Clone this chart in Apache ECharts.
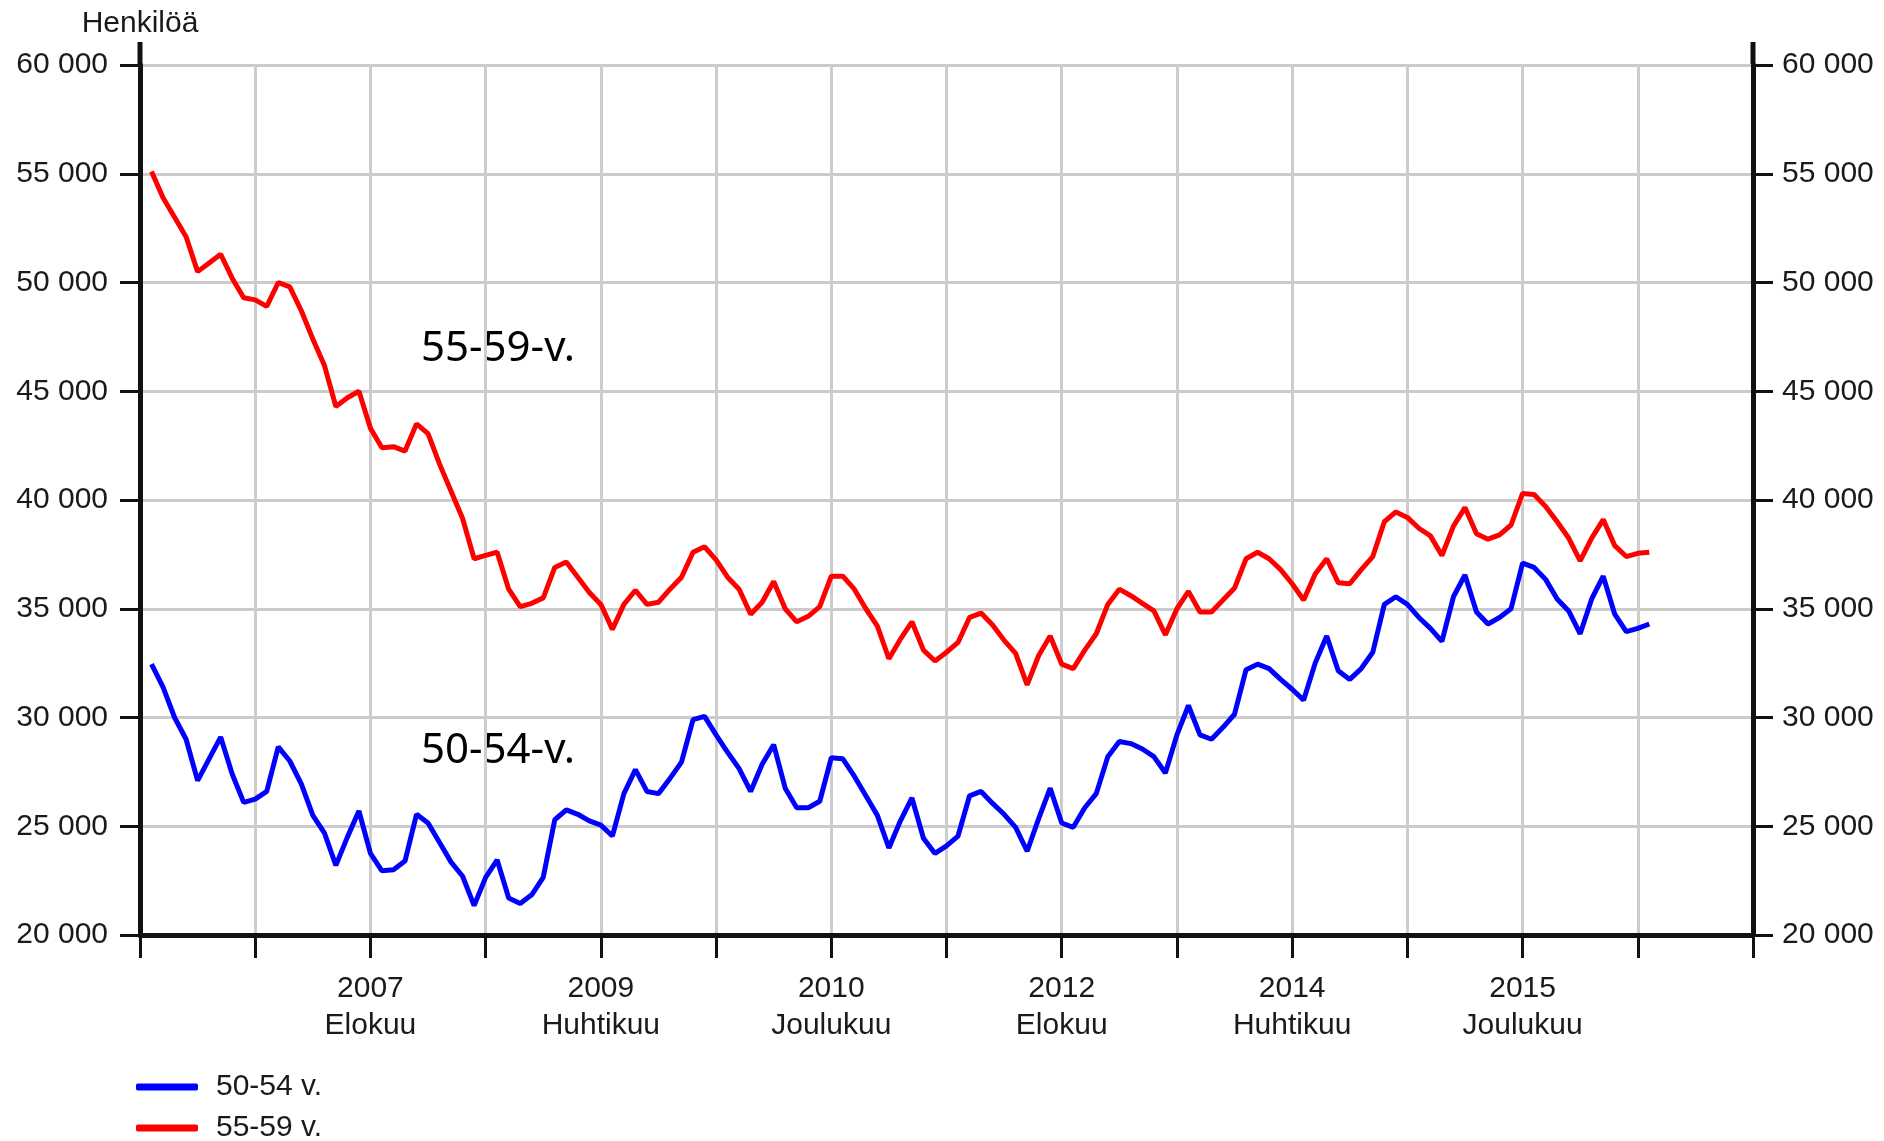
<!DOCTYPE html>
<html>
<head>
<meta charset="utf-8">
<title>50-54 v. ja 55-59 v.</title>
<script src="https://cdn.jsdelivr.net/npm/echarts@6/dist/echarts.min.js"></script>
<style>
  html, body { margin: 0; padding: 0; background: #fff; }
  #chart { width: 1884px; height: 1141px; }
</style>
</head>
<body>
<div id="chart"></div>
<script>
// kuukausiakseli: joulukuu 2005 ... elokuu 2017 (141 kuukautta)
const monthNames = ['Tammikuu', 'Helmikuu', 'Maaliskuu', 'Huhtikuu', 'Toukokuu', 'Kesäkuu',
  'Heinäkuu', 'Elokuu', 'Syyskuu', 'Lokakuu', 'Marraskuu', 'Joulukuu'];
const axisStart = { year: 2005, month: 12 };
const axisMonths = 141;
const labelEvery = 20;   // nimetyt tikit: 2007 Elokuu, 2009 Huhtikuu, ...
const gridEvery = 10;

// havainnot tammikuu 2006 ... marraskuu 2016
const dataStartIndex = 1;
const age55_59 = [
  55100, 53900, 53000, 52100, 50500, 50900, 51300, 50200, 49300, 49200, 48900, 50000,
  49800, 48700, 47400, 46200, 44300, 44700, 45000, 43300, 42400, 42450, 42250, 43500,
  43050, 41650, 40400, 39150, 37300, 37450, 37600, 35900, 35100, 35250, 35500, 36900,
  37150, 36450, 35750, 35200, 34050, 35200, 35850, 35200, 35300, 35900, 36450, 37600,
  37850, 37250, 36450, 35900, 34750, 35300, 36250, 35000, 34400, 34650, 35100, 36500,
  36500, 35900, 35000, 34200, 32700, 33600, 34400, 33100, 32600, 33000, 33450, 34600,
  34800, 34250, 33550, 32950, 31500, 32850, 33750, 32450, 32250, 33100, 33850, 35200,
  35900, 35600, 35250, 34900, 33800, 35000, 35800, 34850, 34850, 35400, 35950, 37300,
  37600, 37300, 36800, 36150, 35400, 36600, 37300, 36200, 36150, 36800, 37400, 39000,
  39450, 39200, 38700, 38350, 37450, 38800, 39650, 38450, 38200, 38400, 38850, 40300,
  40250, 39700, 39000, 38250, 37200, 38250, 39100, 37900, 37400, 37550, 37600
];
const age50_54 = [
  32450, 31400, 30000, 29000, 27100, 28100, 29100, 27400, 26100, 26250, 26600, 28650,
  28000, 26950, 25500, 24700, 23200, 24500, 25700, 23750, 22950, 23000, 23400, 25550,
  25150, 24250, 23350, 22700, 21350, 22650, 23450, 21700, 21450, 21850, 22650, 25300,
  25750, 25550, 25250, 25050, 24550, 26500, 27600, 26600, 26500, 27200, 27950, 29900,
  30050, 29200, 28400, 27650, 26600, 27850, 28750, 26750, 25850, 25850, 26150, 28150,
  28100, 27300, 26400, 25500, 24000, 25250, 26300, 24450, 23750, 24100, 24550, 26400,
  26600, 26050, 25550, 24950, 23850, 25350, 26750, 25150, 24950, 25850, 26500, 28200,
  28900, 28800, 28550, 28200, 27450, 29200, 30550, 29200, 29000, 29550, 30150, 32200,
  32450, 32250, 31750, 31300, 30800, 32500, 33750, 32150, 31750, 32250, 33000, 35200,
  35550, 35200, 34600, 34100, 33500, 35550, 36550, 34850, 34300, 34600, 35000, 37100,
  36900, 36350, 35450, 34900, 33850, 35450, 36500, 34750, 33950, 34100, 34300
];
const yMin = 20000, yMax = 60000, yStep = 5000;

const months = [];
for (let k = 0; k < axisMonths; k++) {
  const t = axisStart.year * 12 + (axisStart.month - 1) + k;
  months.push(Math.floor(t / 12) + '-' + String(t % 12 + 1).padStart(2, '0'));
}
function padSeries(values) {
  const out = new Array(axisMonths).fill(null);
  values.forEach((v, k) => { out[dataStartIndex + k] = v; });
  return out;
}
const fmtThousands = v => String(v).replace(/\B(?=(\d{3})+(?!\d))/g, ' ');

const FONT = '"Liberation Sans", Arial, sans-serif';
const INK = '#1a1a1a';

const chart = echarts.init(document.getElementById('chart'));
const grid = { left: 140, right: 131, top: 65, bottom: 206 };

const yAxisBase = {
  type: 'value',
  min: yMin,
  max: yMax,
  interval: yStep,
  axisLine: { show: true, lineStyle: { color: '#111', width: 5 } },
  axisTick: { show: true, length: 20, lineStyle: { color: '#111', width: 3 } },
  axisLabel: { color: INK, fontFamily: FONT, fontSize: 30, formatter: fmtThousands }
};

chart.setOption({
  backgroundColor: '#fff',
  animation: false,
  grid: grid,
  legend: {
    orient: 'vertical',
    left: 136,
    top: 1072,
    height: 200,
    padding: 0,
    itemGap: 11,
    icon: 'roundRect',
    itemWidth: 62,
    itemHeight: 7,
    textStyle: { color: INK, fontFamily: FONT, fontSize: 30, lineHeight: 30, padding: [0, 0, 0, 13] },
    data: ['50-54 v.', '55-59 v.']
  },
  xAxis: {
    type: 'category',
    data: months,
    boundaryGap: false,
    axisLine: { lineStyle: { color: '#111', width: 5 } },
    axisTick: {
      length: 23,
      interval: i => i % gridEvery === 0,
      lineStyle: { color: '#111', width: 3 }
    },
    splitLine: {
      show: true,
      interval: i => i % gridEvery === 0,
      lineStyle: { color: '#cdcdcd', width: 3 }
    },
    axisLabel: {
      interval: i => i > 0 && i < axisMonths - 1 && i % labelEvery === 0,
      margin: 35,
      lineHeight: 37,
      color: INK,
      fontFamily: FONT,
      fontSize: 30,
      formatter: v => {
        const [y, m] = v.split('-');
        return y + '\n' + monthNames[+m - 1];
      }
    }
  },
  yAxis: [
    Object.assign({}, yAxisBase, {
      position: 'left',
      name: 'Henkilöä',
      nameLocation: 'end',
      nameGap: 26,
      nameTextStyle: { color: INK, fontFamily: FONT, fontSize: 30, align: 'center' },
      axisLabel: Object.assign({}, yAxisBase.axisLabel, { margin: 32 }),
      splitLine: { show: true, lineStyle: { color: '#cbcbcb', width: 3 } }
    }),
    Object.assign({}, yAxisBase, {
      position: 'right',
      axisLabel: Object.assign({}, yAxisBase.axisLabel, { margin: 29 }),
      splitLine: { show: false }
    })
  ],
  series: [
    {
      name: '50-54 v.',
      type: 'line',
      data: padSeries(age50_54),
      symbol: 'none',
      color: '#0000ff',
      lineStyle: { color: '#0000ff', width: 5 },
      z: 3
    },
    {
      name: '55-59 v.',
      type: 'line',
      data: padSeries(age55_59),
      symbol: 'none',
      color: '#ff0000',
      lineStyle: { color: '#ff0000', width: 5 },
      z: 3
    }
  ],
  graphic: [
    // pystyakselit jatkuvat hieman 60 000 -viivan yläpuolelle
    { type: 'line', shape: { x1: 140, y1: 42, x2: 140, y2: 66 }, style: { stroke: '#111', lineWidth: 5 } },
    { type: 'line', shape: { x1: 1753, y1: 42, x2: 1753, y2: 66 }, style: { stroke: '#111', lineWidth: 5 } },
    { type: 'text', left: 421, top: 328, style: { text: '55-59-v.', font: '42px "Noto Sans"', fill: '#000' } },
    { type: 'text', left: 421, top: 730, style: { text: '50-54-v.', font: '42px "Noto Sans"', fill: '#000' } }
  ]
});
window.addEventListener('resize', () => chart.resize());
</script>
</body>
</html>
